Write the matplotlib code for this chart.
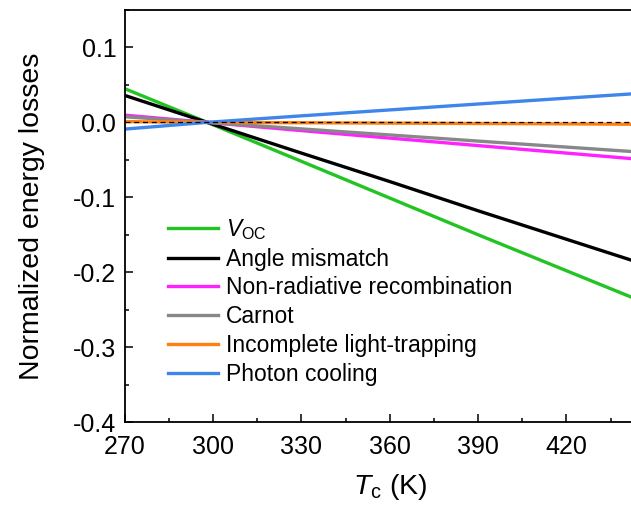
import numpy as np
import matplotlib
matplotlib.use('Agg')
import matplotlib.pyplot as plt
from matplotlib.ticker import MultipleLocator

plt.rcParams['font.family'] = ['Liberation Sans', 'DejaVu Sans']
plt.rcParams['mathtext.fontset'] = 'custom'
plt.rcParams['mathtext.rm'] = 'Liberation Sans'
plt.rcParams['mathtext.it'] = 'Liberation Sans:italic'

# cell temperature (K)
T = [270, 298, 330, 360, 390, 420, 450]

# normalized energy losses
voc = [0.045, 0.0, -0.052, -0.101, -0.150, -0.198, -0.246]
angle = [0.036, 0.0, -0.041, -0.079, -0.118, -0.156, -0.194]
nonrad = [0.0096, 0.0, -0.011, -0.021, -0.031, -0.041, -0.051]
carnot = [0.0075, 0.0, -0.0087, -0.0168, -0.025, -0.033, -0.041]
trapping = [0.001, 0.0, -0.0005, -0.001, -0.0015, -0.002, -0.0027]
cooling = [-0.009, 0.0, 0.0087, 0.0166, 0.0245, 0.0323, 0.040]

series = [
    (voc, '#22c422', r'$V_{\mathrm{OC}}$'),
    (angle, '#000000', 'Angle mismatch'),
    (nonrad, '#ff22ff', 'Non-radiative recombination'),
    (carnot, '#888888', 'Carnot'),
    (trapping, '#ff8010', 'Incomplete light-trapping'),
    (cooling, '#3f86ec', 'Photon cooling'),
]

fig = plt.figure(figsize=(6.31, 5.14), dpi=100)
ax = fig.add_axes([124.7 / 631, 1 - 422 / 514, 530 / 631, 412 / 514])

for y, c, lab in series:
    ax.plot(T, y, color=c, lw=2.4, label=lab)
ax.axhline(0, color='black', lw=0.9, ls=(0, (4, 3)), zorder=5)

ax.set_xlim(270, 450)
ax.set_ylim(-0.4, 0.15)
ax.set_xticks([270, 300, 330, 360, 390, 420])
ax.xaxis.set_minor_locator(MultipleLocator(15))
ax.set_yticks([-0.4, -0.3, -0.2, -0.1, 0.0, 0.1])
ax.set_yticklabels(['-0.4', '-0.3', '-0.2', '-0.1', '0.0', '0.1'])
ax.yaxis.set_minor_locator(MultipleLocator(0.05))
ax.tick_params(which='both', direction='in', labelsize=18, width=1.1)
ax.tick_params(which='major', length=6)
ax.tick_params(axis='x', which='major', pad=9)
ax.tick_params(axis='y', which='major', pad=6)
ax.tick_params(which='minor', length=3)
for s in ax.spines.values():
    s.set_linewidth(1.3)

ax.set_xlabel(r'$T_\mathrm{c}$ (K)', fontsize=20.5, labelpad=10)
ax.set_ylabel('Normalized energy losses', fontsize=20.5, labelpad=20)

ax.legend(loc='lower left', bbox_to_anchor=(0.064, 0.066), frameon=False,
          fontsize=16.5, handlelength=2.2, handletextpad=0.35,
          labelspacing=0.25, borderaxespad=0)

fig.savefig('out.png', dpi=100)
